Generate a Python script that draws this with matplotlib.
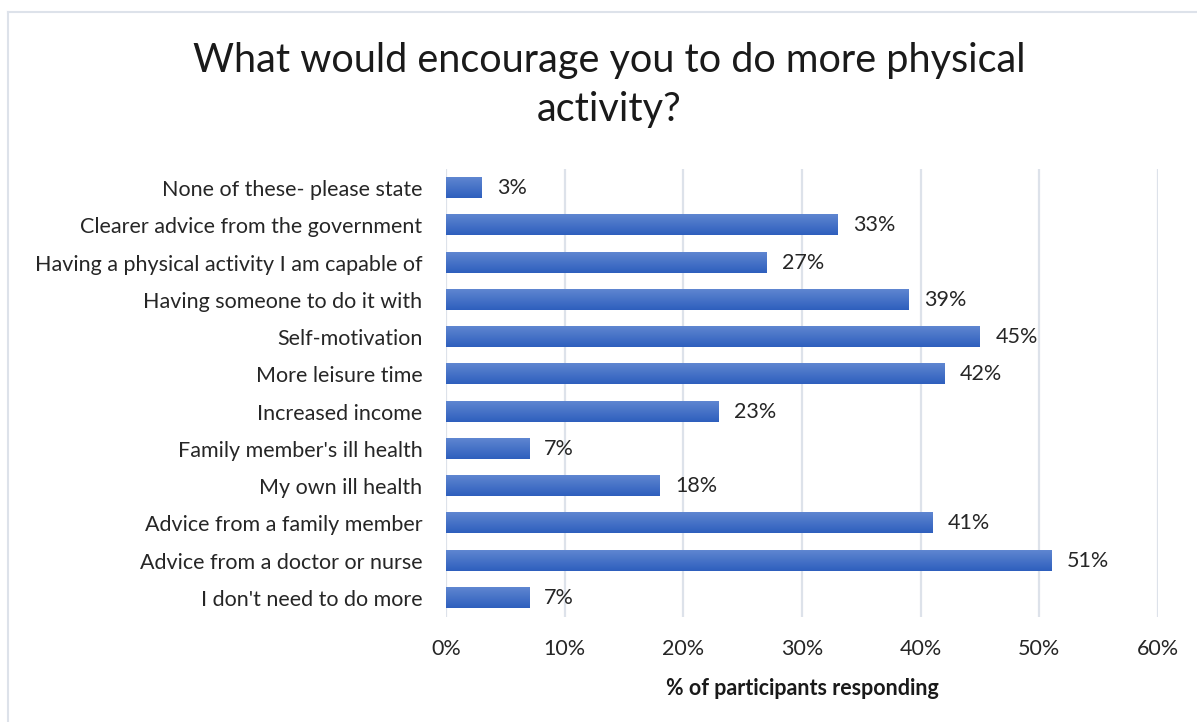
import matplotlib.pyplot as plt
import numpy as np
from matplotlib.lines import Line2D
from matplotlib.colors import LinearSegmentedColormap

plt.rcParams['font.family'] = ['Lato', 'DejaVu Sans']

categories = [
    "None of these- please state",
    "Clearer advice from the government",
    "Having a physical activity I am capable of",
    "Having someone to do it with",
    "Self-motivation",
    "More leisure time",
    "Increased income",
    "Family member's ill health",
    "My own ill health",
    "Advice from a family member",
    "Advice from a doctor or nurse",
    "I don't need to do more",
]
percent = [3, 33, 27, 39, 45, 42, 23, 7, 18, 41, 51, 7]
xticks = [0, 10, 20, 30, 40, 50, 60]

fig = plt.figure(figsize=(11.97, 7.22), dpi=100)
ax = fig.add_axes([0.3726, 0.146, 0.5948, 0.6194])

y = np.arange(len(categories))
bars = ax.barh(y, percent, height=0.54, color='#4472c4', zorder=2)

# vertical gradient, lighter on top
grad = np.linspace(0, 1, 64).reshape(-1, 1)
cmap = LinearSegmentedColormap.from_list('bar', ['#5f86d1', '#2e5fbd'])
for b in bars:
    x0, y0 = b.get_x(), b.get_y()
    w, h = b.get_width(), b.get_height()
    ax.imshow(grad, cmap=cmap, aspect='auto', origin='upper',
              extent=(x0, x0 + w, y0 + h, y0), zorder=3)
    b.set_visible(False)

for yi, v in zip(y, percent):
    ax.annotate(f"{v}%", (v, yi), xytext=(11, 0), textcoords='offset points',
                va='center', ha='left', fontsize=15.5, color='#262626')

ax.set_xlim(0, 60)
ax.set_ylim(len(categories) - 0.5, -0.5)
ax.set_xticks(xticks)
ax.set_xticklabels([f"{t}%" for t in xticks], fontsize=15.5, color='#262626')
ax.set_yticks(y)
ax.set_yticklabels(categories, fontsize=15.5, color='#262626')
ax.tick_params(axis='both', length=0)
ax.tick_params(axis='y', pad=17)
ax.tick_params(axis='x', pad=16)
ax.grid(axis='x', color='#dde2ea', linewidth=1.6, zorder=0)
for s in ax.spines.values():
    s.set_visible(False)

ax.set_xlabel("% of participants responding", fontsize=15.5, fontweight='bold',
              color='#1a1a1a', labelpad=14)

fig.text(0.509, 0.882, "What would encourage you to do more physical\nactivity?",
         ha='center', va='center', fontsize=28.5, color='#1a1a1a', linespacing=1.4)

# chart border (left and top edges)
fig.add_artist(Line2D([8 / 1197, 8 / 1197], [0, 1 - 12 / 722], transform=fig.transFigure,
                      color='#dde2ea', linewidth=1.5))
fig.add_artist(Line2D([8 / 1197, 1], [1 - 12 / 722, 1 - 12 / 722], transform=fig.transFigure,
                      color='#dde2ea', linewidth=1.5))

fig.savefig('out.png', dpi=100)
